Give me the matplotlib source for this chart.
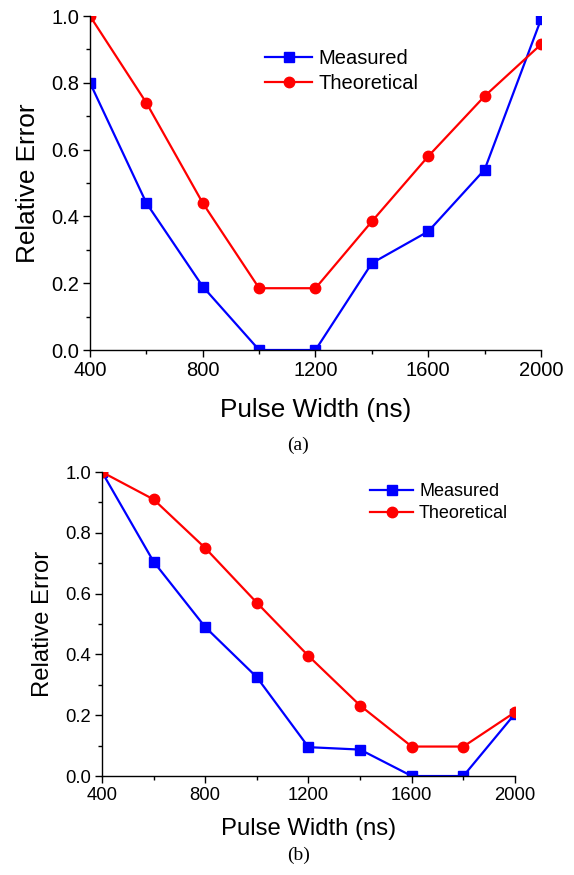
import matplotlib
matplotlib.use('Agg')
import matplotlib.pyplot as plt
from matplotlib.ticker import MultipleLocator

# pulse widths (ns)
pulse_width = [400, 600, 800, 1000, 1200, 1400, 1600, 1800, 2000]

# panel (a)
meas_a = [0.80, 0.44, 0.19, 0.0, 0.0, 0.26, 0.355, 0.54, 0.99]
theo_a = [1.0, 0.74, 0.44, 0.185, 0.185, 0.385, 0.58, 0.76, 0.915]

# panel (b)
meas_b = [1.0, 0.705, 0.49, 0.325, 0.095, 0.087, 0.0, 0.0, 0.205]
theo_b = [1.0, 0.91, 0.75, 0.57, 0.395, 0.232, 0.097, 0.097, 0.21]

xticks = [400, 800, 1200, 1600, 2000]
yticks = [0.0, 0.2, 0.4, 0.6, 0.8, 1.0]

plt.rcParams['font.family'] = ['Liberation Sans', 'DejaVu Sans']

fig = plt.figure(figsize=(5.74, 8.75), dpi=100)

def panel(rect, meas, theo, tick_fs, label_fs, xpad, leg_fs, leg_anchor,
          handle_len, caption, cap_y):
    ax = fig.add_axes(rect)
    ax.plot(pulse_width, meas, color='#0000ff', lw=1.6, marker='s', ms=7,
            label='Measured')
    ax.plot(pulse_width, theo, color='#ff0000', lw=1.6, marker='o', ms=7.5,
            label='Theoretical')
    ax.set_xlim(400, 2000)
    ax.set_ylim(0, 1.0)
    ax.set_xticks(xticks)
    ax.set_yticks(yticks)
    ax.set_yticklabels([f'{v:.1f}' for v in yticks])
    ax.xaxis.set_minor_locator(MultipleLocator(200))
    ax.yaxis.set_minor_locator(MultipleLocator(0.1))
    for s in ('top', 'right'):
        ax.spines[s].set_visible(False)
    for s in ('left', 'bottom'):
        ax.spines[s].set_linewidth(1.0)
    ax.tick_params(which='major', direction='out', length=5, width=1,
                   labelsize=tick_fs, pad=3)
    ax.tick_params(which='minor', direction='out', length=3, width=1)
    ax.set_xlabel('Pulse Width (ns)', fontsize=label_fs, labelpad=xpad)
    ax.set_ylabel('Relative Error', fontsize=label_fs, labelpad=8)
    ax.legend(loc='upper left', bbox_to_anchor=leg_anchor,
              bbox_transform=fig.transFigure, frameon=False,
              fontsize=leg_fs, handlelength=handle_len, handletextpad=0.32,
              labelspacing=0.3, borderpad=0, borderaxespad=0)
    fig.text(0.52, cap_y, caption, ha='center', va='center',
             family='Liberation Serif', fontsize=14)
    return ax

panel([0.1568, 0.6, 0.7857, 0.3817], meas_a, theo_a, 14.5, 18.8, 13, 14.5,
      (265 / 574, 1 - 49 / 875), 2.35, '(a)', 1 - 445 / 875)
panel([0.1777, 0.1131, 0.7195, 0.3474], meas_b, theo_b, 13.3, 17.2, 10, 13.0,
      (370 / 574, 1 - 483 / 875), 2.4, '(b)', 1 - 855 / 875)

fig.savefig('out.png', dpi=100)
